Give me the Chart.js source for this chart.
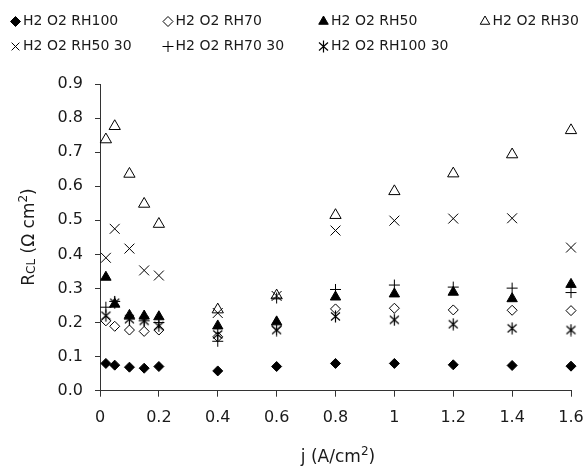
<!DOCTYPE html>
<html>
<head>
<meta charset="utf-8">
<script src="https://cdn.jsdelivr.net/npm/chart.js@4.4.0/dist/chart.umd.min.js"></script>
<style>
  html, body { margin: 0; padding: 0; background: #fff; }
</style>
</head>
<body>
<canvas id="myChart" width="583" height="467"></canvas>
<script>
// current density (A/cm2), same for every series
const currentDensity = [0.02, 0.05, 0.1, 0.15, 0.2, 0.4, 0.6, 0.8, 1.0, 1.2, 1.4, 1.6];

const rh100   = [0.080, 0.075, 0.069, 0.066, 0.071, 0.058, 0.071, 0.080, 0.080, 0.076, 0.074, 0.072];
const rh70    = [0.205, 0.189, 0.178, 0.174, 0.178, 0.158, 0.190, 0.240, 0.242, 0.237, 0.236, 0.235];
const rh50    = [0.333, 0.254, 0.221, 0.219, 0.217, 0.190, 0.202, 0.275, 0.284, 0.289, 0.270, 0.312];
const rh30    = [0.737, 0.776, 0.636, 0.548, 0.489, 0.238, 0.279, 0.515, 0.585, 0.637, 0.693, 0.764];
const rh50_30 = [0.390, 0.475, 0.417, 0.353, 0.338, 0.228, 0.278, 0.470, 0.499, 0.505, 0.506, 0.420];
const rh70_30 = [0.245, 0.262, 0.210, 0.205, 0.200, 0.145, 0.272, 0.297, 0.310, 0.304, 0.301, 0.288];
const rh100_30= [0.220, 0.258, 0.210, 0.205, 0.190, 0.165, 0.178, 0.218, 0.208, 0.195, 0.183, 0.178];

const seriesNames = ["H2 O2 RH100", "H2 O2 RH70", "H2 O2 RH50", "H2 O2 RH30",
                     "H2 O2 RH50 30", "H2 O2 RH70 30", "H2 O2 RH100 30"];
const seriesValues = [rh100, rh70, rh50, rh30, rh50_30, rh70_30, rh100_30];

const FONT = "'DejaVu Sans', sans-serif";
const INK = "#1a1a1a";

// asterisk marker (x with a vertical bar)
const star = document.createElement("canvas");
star.width = 13; star.height = 13;
(function () {
  const c = star.getContext("2d");
  c.strokeStyle = "#000";
  c.lineWidth = 1.2;
  c.beginPath();
  c.moveTo(2, 2.5); c.lineTo(11, 10.5);
  c.moveTo(11, 2.5); c.lineTo(2, 10.5);
  c.moveTo(6.5, 0.5); c.lineTo(6.5, 12.5);
  c.stroke();
})();

const markerStyles = [
  { pointStyle: "rectRot",  radius: 5,   fill: "#000" },
  { pointStyle: "rectRot",  radius: 5,   fill: "rgba(0,0,0,0)" },
  { pointStyle: "triangle", radius: 6,   fill: "#000" },
  { pointStyle: "triangle", radius: 6.5, fill: "rgba(0,0,0,0)" },
  { pointStyle: "crossRot", radius: 7,   fill: "rgba(0,0,0,0)" },
  { pointStyle: "cross",    radius: 5.5, fill: "rgba(0,0,0,0)" },
  { pointStyle: star,       radius: 6,   fill: "rgba(0,0,0,0)" },
];

const datasets = seriesNames.map((name, i) => ({
  label: name,
  data: currentDensity.map((x, k) => ({ x: x, y: seriesValues[i][k] })),
  showLine: false,
  clip: false,
  pointStyle: markerStyles[i].pointStyle,
  pointRadius: markerStyles[i].radius,
  pointBackgroundColor: markerStyles[i].fill,
  pointBorderColor: "#000",
  pointBorderWidth: 1,
}));

// legend laid out in two rows of fixed columns, plus the axis titles
const legendCols = [15.5, 168, 323.5, 485];
const legendRows = [21.5, 46.5];

function drawPieces(ctx, pieces, x0, y0) {
  let total = 0;
  pieces.forEach(p => { ctx.font = p.size + "px " + FONT; p.w = ctx.measureText(p.t).width; total += p.w; });
  let x = x0 - total / 2;
  pieces.forEach(p => {
    ctx.font = p.size + "px " + FONT;
    ctx.fillText(p.t, x, y0 + (p.dy || 0));
    x += p.w;
  });
}

const decorPlugin = {
  id: "decor",
  afterDraw(chart) {
    const ctx = chart.ctx;
    ctx.save();
    // legend
    chart.data.datasets.forEach((ds, i) => {
      const col = i < 4 ? i : i - 4;
      const row = i < 4 ? 0 : 1;
      const mx = legendCols[col], my = legendRows[row];
      ctx.fillStyle = markerStyles[i].fill;
      ctx.strokeStyle = "#000";
      ctx.lineWidth = 1;
      Chart.helpers.drawPoint(ctx, {
        pointStyle: markerStyles[i].pointStyle,
        radius: Math.min(markerStyles[i].radius, 5.5),
        rotation: 0,
        borderWidth: 1,
      }, mx, my);
      ctx.fillStyle = INK;
      ctx.font = "14px " + FONT;
      ctx.textAlign = "left";
      ctx.textBaseline = "middle";
      ctx.fillText(ds.label, mx + 7.5, my);
    });

    // axis titles
    ctx.fillStyle = INK;
    ctx.textAlign = "left";
    ctx.textBaseline = "alphabetic";
    drawPieces(ctx, [
      { t: "j (A/cm", size: 17 },
      { t: "2", size: 12, dy: -7 },
      { t: ")", size: 17 },
    ], 338, 462);

    ctx.translate(34, 237);
    ctx.rotate(-Math.PI / 2);
    drawPieces(ctx, [
      { t: "R", size: 17 },
      { t: "CL", size: 12, dy: 1 },
      { t: " (\u03A9 cm", size: 17 },
      { t: "2", size: 12, dy: -7 },
      { t: ")", size: 17 },
    ], 0, 0);
    ctx.restore();
  }
};

const ctx = document.getElementById("myChart");
const myChart = new Chart(ctx, {
  type: "scatter",
  data: { datasets: datasets },
  plugins: [decorPlugin],
  options: {
    responsive: false,
    animation: false,
    devicePixelRatio: 1,
    layout: { padding: { top: 84, right: 12, left: 0, bottom: 0 } },
    plugins: { legend: { display: false }, tooltip: { enabled: false } },
    scales: {
      x: {
        type: "linear",
        min: 0, max: 1.6,
        ticks: {
          stepSize: 0.2,
          padding: 12,
          color: INK,
          font: { family: FONT, size: 16 },
          callback: v => String(+v.toFixed(1)),
        },
        grid: { drawOnChartArea: false, drawTicks: true, tickLength: 6, color: "#333" },
        border: { color: "#333", width: 1 },
        afterFit: s => { s.height = 76.3; s.paddingLeft = 0; s.paddingRight = 0; },
      },
      y: {
        min: 0, max: 0.9,
        ticks: {
          stepSize: 0.1,
          padding: 12,
          color: INK,
          font: { family: FONT, size: 16 },
          callback: v => v.toFixed(1),
        },
        grid: { drawOnChartArea: false, drawTicks: true, tickLength: 5, color: "#333" },
        border: { color: "#333", width: 1 },
        afterFit: s => { s.width = 100; s.paddingTop = 0; s.paddingBottom = 0; },
      },
    },
  },
});
</script>
</body>
</html>
